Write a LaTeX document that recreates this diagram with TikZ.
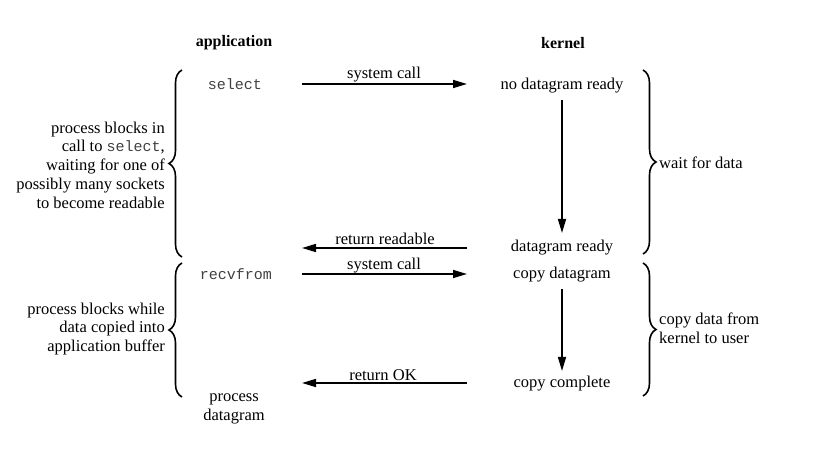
\documentclass[tikz,border=0pt]{standalone}
\usepackage{fontspec}
\setmainfont{Liberation Serif}
\setmonofont{Liberation Mono}
\usetikzlibrary{arrows.meta,decorations.pathreplacing}
\begin{document}
\begin{tikzpicture}[x=1pt,y=-1pt,
  txt/.style={font=\fontsize{16.5}{18.7}\selectfont, inner sep=1pt},
  one/.style={txt, yshift=-2pt},
  hdr/.style={font=\fontsize{16}{18}\selectfont\bfseries, inner sep=1pt},
  code/.style={font=\fontsize{15}{18}\selectfont\ttfamily, text=black!75, inner sep=1pt},
  arr/.style={line width=1.6pt, -{Triangle[length=14pt,width=8pt]}},
  brc/.style={line width=1.6pt, decorate, decoration={brace,amplitude=13pt}},
]
\useasboundingbox (0,0) rectangle (817,470);

% headers
\node[hdr] (app) at (234,43) {application};
\node[hdr] (ker) at (563,43) {kernel};

% application side
\node[code] (sel) at (235,84) {select};
\node[code] (rcv) at (236,274) {recvfrom};
\node[txt, align=center] (pdg) at (234,409) {process\\datagram};

% kernel side
\node[one] (ndr) at (562,84) {no datagram ready};
\node[one] (dr)  at (562,246) {datagram ready};
\node[one] (cdg) at (562,273) {copy datagram};
\node[one] (cc)  at (562,382) {copy complete};

% free ends
\coordinate (rrend) at (302,248);
\coordinate (okend) at (302,383);

% arrows
\draw[arr, shorten <=67pt, shorten >=95pt] (sel.center) -- (sel.center -| ndr.center);
\node[one] (l1) at (384,73) {system call};
\draw[arr, shorten <=14pt, shorten >=15pt] (ndr.center) -- (dr.center);
\draw[arr, shorten <=95pt] (rrend -| dr.center) -- (rrend);
\node[one] (l2) at (385,237) {return readable};
\draw[arr, shorten <=66pt, shorten >=95pt] (rcv.center) -- (rcv.center -| cdg.center);
\node[one] (l3) at (384,264) {system call};
\draw[arr, shorten <=14pt, shorten >=13pt] (cdg.center) -- (cc.center);
\draw[arr, shorten <=95pt] (okend -| cc.center) -- (okend);
\node[one] (l4) at (383,373) {return OK};

% braces
\draw[brc] (182,257) -- (182,70);
\draw[brc] (182,397) -- (182,263);
\draw[brc] (643,70) -- (643,254);
\draw[brc] (643,263) -- (643,396);

% brace labels
\node[txt, align=right, anchor=east] (bl1) at (166,165)
  {process blocks in\\call to {\fontsize{15}{18.7}\selectfont\ttfamily\color{black!75}select},\\waiting for one of\\possibly many sockets\\to become readable};
\node[txt, align=right, anchor=east] (bl2) at (166,329)
  {process blocks while\\data copied into\\application buffer};
\node[txt, align=left, anchor=west] (br1) at (658,163) {wait for data};
\node[txt, align=left, anchor=west] (br2) at (658,328) {copy data from\\kernel to user};
\end{tikzpicture}
\end{document}
